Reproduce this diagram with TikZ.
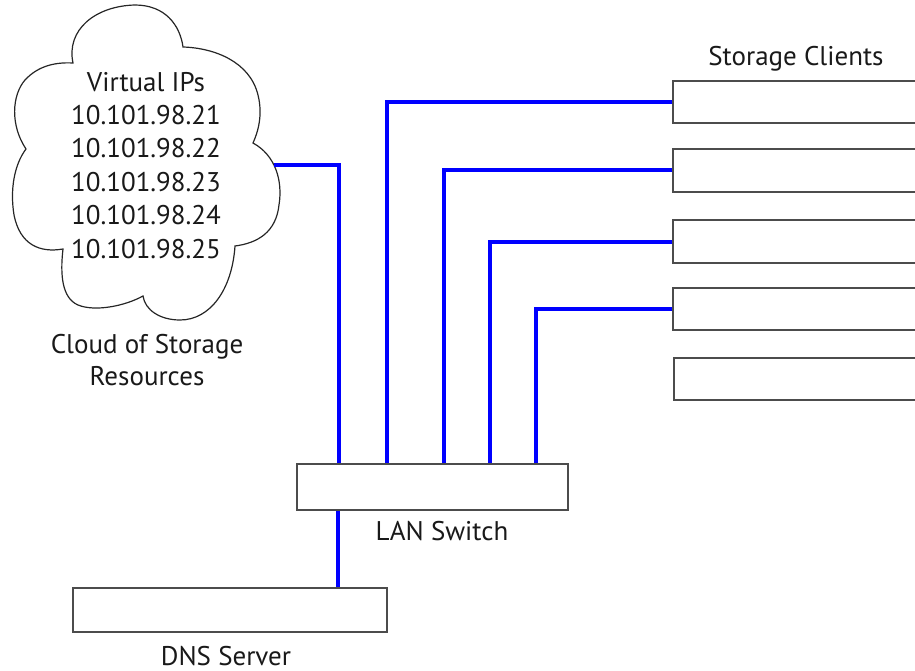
\documentclass[tikz,border=0pt]{standalone}
\usepackage{fontspec}
\setmainfont{PT Sans}
\usetikzlibrary{calc}
\begin{document}
\begin{tikzpicture}[x=1pt,y=-1pt,
  lbl/.style={font=\fontsize{27}{32}\selectfont, text=black!90, inner sep=0pt, anchor=base},
  box/.style={draw=black!70, line width=1.4pt, fill=white, inner sep=0pt, rectangle},
  wire/.style={draw=blue, line width=4pt},
  cloudline/.style={draw=black!85, line width=1.2pt}]
\useasboundingbox (0,0) rectangle (915,671);
\clip (0,0) rectangle (915,671);

% cloud
\draw[cloudline]
  (73,63) .. controls (66,30) and (95,6) .. (135,5)
  .. controls (165,5) and (180,25) .. (183,47)
  .. controls (215,48) and (250,62) .. (258,95)
  .. controls (263,115) and (258,132) .. (253,143)
  .. controls (275,155) and (283,180) .. (279,205)
  .. controls (276,232) and (258,243) .. (235,246)
  .. controls (232,290) and (210,320) .. (180,320)
  .. controls (160,320) and (145,310) .. (143,296)
  .. controls (125,306) and (95,312) .. (78,305)
  .. controls (62,298) and (60,275) .. (63,249)
  .. controls (40,253) and (20,245) .. (14,215)
  .. controls (10,190) and (14,165) .. (26,149)
  .. controls (10,125) and (12,95) .. (25,80)
  .. controls (38,66) and (55,62) .. (73,63) -- cycle;
\coordinate (cport) at (274,165);

% cloud texts
\node[lbl] (vip) at (146,92) {Virtual IPs};
\node[lbl] (ip1) at (146,125) {10.101.98.21};
\node[lbl] (ip2) at (146,158) {10.101.98.22};
\node[lbl] (ip3) at (146,192) {10.101.98.23};
\node[lbl] (ip4) at (146,225) {10.101.98.24};
\node[lbl] (ip5) at (146,258) {10.101.98.25};
\node[lbl] (cl1) at (147,353) {Cloud of Storage};
\node[lbl] (cl2) at (147,385) {Resources};

% switch and DNS
\node[box, minimum width=271pt, minimum height=46pt] (sw) at (432.5,487) {};
\node[lbl] (swl) at (442,540) {LAN Switch};
\node[box, minimum width=314pt, minimum height=44pt] (dns) at (230,610) {};
\node[lbl] (dnsl) at (226,665) {DNS Server};

% clients
\node[lbl] (scl) at (796,66) {Storage Clients};
\node[box, minimum width=300pt, minimum height=42pt] (c1) at (823,102) {};
\node[box, minimum width=300pt, minimum height=43pt] (c2) at (823,170.5) {};
\node[box, minimum width=300pt, minimum height=43pt] (c3) at (823,241.5) {};
\node[box, minimum width=300pt, minimum height=42pt] (c4) at (823,309) {};
\node[box, minimum width=300pt, minimum height=42pt] (c5) at (824,379) {};

% ports on switch
\coordinate (p0) at ($(sw.north west)+(43,0)$);
\coordinate (p1) at ($(sw.north west)+(91,0)$);
\coordinate (p2) at ($(sw.north west)+(147.5,0)$);
\coordinate (p3) at ($(sw.north west)+(194,0)$);
\coordinate (p4) at ($(sw.north west)+(240,0)$);
\coordinate (pb) at ($(sw.south west)+(42,0)$);

% wires
\draw[wire] (cport) -| (p0);
\draw[wire] (c1.west) -| (p1);
\draw[wire] (c2.west) -| (p2);
\draw[wire] (c3.west) -| (p3);
\draw[wire] (c4.west) -| (p4);
\draw[wire] (pb) -- (pb |- dns.north);
\end{tikzpicture}
\end{document}
